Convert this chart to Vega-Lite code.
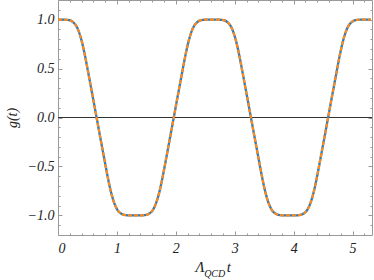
{
  "$schema": "https://vega.github.io/schema/vega-lite/v6.json",
  "width": 314,
  "height": 235,
  "autosize": "none",
  "padding": {"left": 58, "top": 0, "right": 2, "bottom": 45},
  "background": "white",
  "config": {"view": {"stroke": null}},
  "data": {"values": [
    {"t": 0.0, "g": 1.0}, {"t": 0.105, "g": 1.0}, {"t": 0.155, "g": 0.998}, {"t": 0.205, "g": 0.992}, {"t": 0.255, "g": 0.975}, {"t": 0.305, "g": 0.94}, {"t": 0.355, "g": 0.875}, {"t": 0.405, "g": 0.775}, {"t": 0.455, "g": 0.64}, {"t": 0.505, "g": 0.485}, {"t": 0.555, "g": 0.325}, {"t": 0.605, "g": 0.163}, {"t": 0.655, "g": 0.0},
    {"t": 0.705, "g": -0.163}, {"t": 0.755, "g": -0.325}, {"t": 0.805, "g": -0.485}, {"t": 0.855, "g": -0.64}, {"t": 0.905, "g": -0.775}, {"t": 0.955, "g": -0.875}, {"t": 1.005, "g": -0.94}, {"t": 1.055, "g": -0.975}, {"t": 1.105, "g": -0.992}, {"t": 1.155, "g": -0.998}, {"t": 1.205, "g": -1.0}, {"t": 1.31, "g": -1.0},
    {"t": 1.415, "g": -1.0}, {"t": 1.465, "g": -0.998}, {"t": 1.515, "g": -0.992}, {"t": 1.565, "g": -0.975}, {"t": 1.615, "g": -0.94}, {"t": 1.665, "g": -0.875}, {"t": 1.715, "g": -0.775}, {"t": 1.765, "g": -0.64}, {"t": 1.815, "g": -0.485}, {"t": 1.865, "g": -0.325}, {"t": 1.915, "g": -0.163}, {"t": 1.965, "g": 0.0},
    {"t": 2.015, "g": 0.163}, {"t": 2.065, "g": 0.325}, {"t": 2.115, "g": 0.485}, {"t": 2.165, "g": 0.64}, {"t": 2.215, "g": 0.775}, {"t": 2.265, "g": 0.875}, {"t": 2.315, "g": 0.94}, {"t": 2.365, "g": 0.975}, {"t": 2.415, "g": 0.992}, {"t": 2.465, "g": 0.998}, {"t": 2.515, "g": 1.0}, {"t": 2.62, "g": 1.0},
    {"t": 2.725, "g": 1.0}, {"t": 2.775, "g": 0.998}, {"t": 2.825, "g": 0.992}, {"t": 2.875, "g": 0.975}, {"t": 2.925, "g": 0.94}, {"t": 2.975, "g": 0.875}, {"t": 3.025, "g": 0.775}, {"t": 3.075, "g": 0.64}, {"t": 3.125, "g": 0.485}, {"t": 3.175, "g": 0.325}, {"t": 3.225, "g": 0.163}, {"t": 3.275, "g": 0.0},
    {"t": 3.325, "g": -0.163}, {"t": 3.375, "g": -0.325}, {"t": 3.425, "g": -0.485}, {"t": 3.475, "g": -0.64}, {"t": 3.525, "g": -0.775}, {"t": 3.575, "g": -0.875}, {"t": 3.625, "g": -0.94}, {"t": 3.675, "g": -0.975}, {"t": 3.725, "g": -0.992}, {"t": 3.775, "g": -0.998}, {"t": 3.825, "g": -1.0}, {"t": 3.93, "g": -1.0},
    {"t": 4.035, "g": -1.0}, {"t": 4.085, "g": -0.998}, {"t": 4.135, "g": -0.992}, {"t": 4.185, "g": -0.975}, {"t": 4.235, "g": -0.94}, {"t": 4.285, "g": -0.875}, {"t": 4.335, "g": -0.775}, {"t": 4.385, "g": -0.64}, {"t": 4.435, "g": -0.485}, {"t": 4.485, "g": -0.325}, {"t": 4.535, "g": -0.163}, {"t": 4.585, "g": 0.0},
    {"t": 4.635, "g": 0.163}, {"t": 4.685, "g": 0.325}, {"t": 4.735, "g": 0.485}, {"t": 4.785, "g": 0.64}, {"t": 4.835, "g": 0.775}, {"t": 4.885, "g": 0.875}, {"t": 4.935, "g": 0.94}, {"t": 4.985, "g": 0.975}, {"t": 5.035, "g": 0.992}, {"t": 5.085, "g": 0.998}, {"t": 5.135, "g": 1.0}, {"t": 5.24, "g": 1.0}, {"t": 5.31, "g": 1.0}
  ]},
  "resolve": {"axis": {"x": "independent", "y": "independent"}},
  "layer": [
    {
      "data": {"values": [{}]},
      "mark": {"type": "rule", "color": "#333333", "strokeWidth": 1},
      "encoding": {
        "x": {"datum": 0, "type": "quantitative", "scale": {"domain": [0, 5.33], "nice": false, "zero": false},
              "axis": {"orient": "top", "values": [0, 1, 2, 3, 4, 5], "labels": false, "title": null, "grid": false, "tickSize": -4, "tickColor": "#999999", "domainColor": "#999999"}},
        "x2": {"datum": 5.33},
        "y": {"datum": 0, "type": "quantitative", "scale": {"domain": [-1.2, 1.2], "nice": false, "zero": false},
              "axis": {"orient": "right", "values": [-1, -0.5, 0, 0.5, 1], "labels": false, "title": null, "grid": false, "tickSize": -4, "tickColor": "#999999", "domainColor": "#999999"}}
      }
    },
    {
      "data": {"values": [{}]},
      "mark": {"type": "point", "opacity": 0},
      "encoding": {
        "x": {"datum": 0, "type": "quantitative",
              "axis": {"orient": "top", "values": [0.2, 0.4, 0.6, 0.8, 1.2, 1.4, 1.6, 1.8, 2.2, 2.4, 2.6, 2.8, 3.2, 3.4, 3.6, 3.8, 4.2, 4.4, 4.6, 4.8, 5.2], "labels": false, "title": null, "grid": false, "domain": false, "tickSize": -2, "tickColor": "#999999"}},
        "y": {"datum": 0, "type": "quantitative",
              "axis": {"orient": "right", "values": [-1.1, -0.9, -0.8, -0.7, -0.6, -0.4, -0.3, -0.2, -0.1, 0.1, 0.2, 0.3, 0.4, 0.6, 0.7, 0.8, 0.9, 1.1], "labels": false, "title": null, "grid": false, "domain": false, "tickSize": -2, "tickColor": "#999999"}}
      }
    },
    {
      "mark": {"type": "line", "color": "#2b7bba", "strokeWidth": 2.3, "interpolate": "monotone"},
      "encoding": {
        "x": {"field": "t", "type": "quantitative",
              "axis": {"orient": "bottom", "values": [0, 1, 2, 3, 4, 5], "format": "d", "title": null, "grid": false, "tickSize": -4, "tickColor": "#999999", "domainColor": "#999999",
                       "labelFont": "Liberation Serif", "labelFontStyle": "italic", "labelFontWeight": "normal", "labelFontSize": 14, "labelColor": "#222222", "labelPadding": 10}},
        "y": {"field": "g", "type": "quantitative",
              "axis": {"orient": "left", "values": [-1, -0.5, 0, 0.5, 1], "format": ".1f", "title": "g(t)", "grid": false, "tickSize": -4, "tickColor": "#999999", "domainColor": "#999999",
                       "labelFont": "Liberation Serif", "labelFontStyle": "italic", "labelFontWeight": "normal", "labelFontSize": 14, "labelColor": "#222222", "labelPadding": 8,
                       "titleFont": "Liberation Serif", "titleFontStyle": "italic", "titleFontWeight": "normal", "titleFontSize": 14, "titleColor": "#222222", "titlePadding": 8}}
      }
    },
    {
      "mark": {"type": "line", "color": "#ff8a1c", "strokeWidth": 2.2, "strokeDash": [4, 2], "interpolate": "monotone"},
      "encoding": {
        "x": {"field": "t", "type": "quantitative",
              "axis": {"orient": "bottom", "values": [0.2, 0.4, 0.6, 0.8, 1.2, 1.4, 1.6, 1.8, 2.2, 2.4, 2.6, 2.8, 3.2, 3.4, 3.6, 3.8, 4.2, 4.4, 4.6, 4.8, 5.2], "labels": false, "title": null, "grid": false, "domain": false, "tickSize": -2, "tickColor": "#999999"}},
        "y": {"field": "g", "type": "quantitative",
              "axis": {"orient": "left", "values": [-1.1, -0.9, -0.8, -0.7, -0.6, -0.4, -0.3, -0.2, -0.1, 0.1, 0.2, 0.3, 0.4, 0.6, 0.7, 0.8, 0.9, 1.1], "labels": false, "title": null, "grid": false, "domain": false, "tickSize": -2, "tickColor": "#999999"}}
      }
    },
    {
      "data": {"values": [{}]},
      "mark": {"type": "text", "font": "Liberation Serif", "fontStyle": "italic", "fontWeight": "normal", "fontSize": 15, "color": "#222222", "align": "center", "baseline": "alphabetic"},
      "encoding": {
        "x": {"datum": 2.41, "type": "quantitative", "axis": null},
        "y": {"datum": -1.582, "type": "quantitative", "axis": null},
        "text": {"value": "Λ"}
      }
    },
    {
      "data": {"values": [{}]},
      "mark": {"type": "text", "font": "Liberation Serif", "fontStyle": "italic", "fontWeight": "normal", "fontSize": 10, "color": "#222222", "align": "center", "baseline": "alphabetic"},
      "encoding": {
        "x": {"datum": 2.66, "type": "quantitative", "axis": null},
        "y": {"datum": -1.625, "type": "quantitative", "axis": null},
        "text": {"value": "QCD"}
      }
    },
    {
      "data": {"values": [{}]},
      "mark": {"type": "text", "font": "Liberation Serif", "fontStyle": "italic", "fontWeight": "normal", "fontSize": 15, "color": "#222222", "align": "center", "baseline": "alphabetic"},
      "encoding": {
        "x": {"datum": 2.9, "type": "quantitative", "axis": null},
        "y": {"datum": -1.582, "type": "quantitative", "axis": null},
        "text": {"value": "t"}
      }
    }
  ]
}
